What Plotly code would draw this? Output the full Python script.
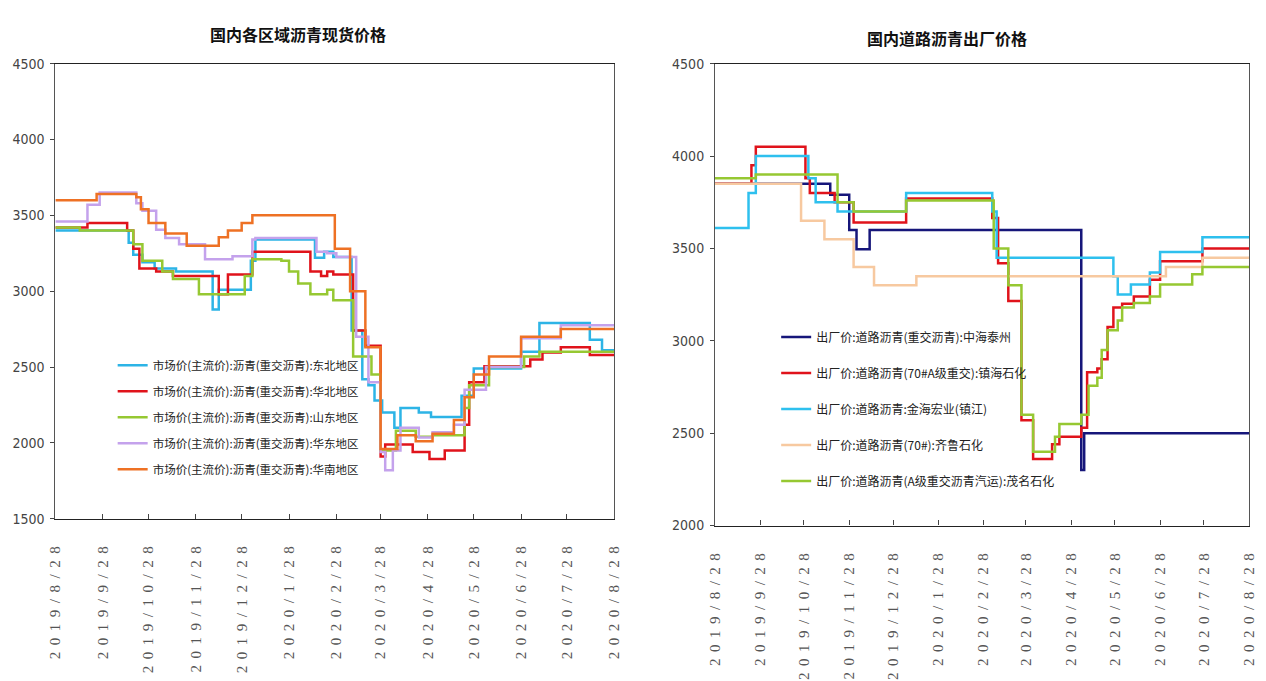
import plotly.graph_objects as go

# ---------------- data: regional spot prices (left panel) ----------------
dongbei_dates = ["2019-08-28", "2019-10-15", "2019-10-18", "2019-10-24", "2019-11-01", "2019-11-15",
                 "2019-12-09", "2019-12-13", "2020-01-03", "2020-01-06", "2020-02-14", "2020-02-20",
                 "2020-02-26", "2020-03-09", "2020-03-16", "2020-03-20", "2020-03-24", "2020-03-29",
                 "2020-04-06", "2020-04-10", "2020-04-22", "2020-04-30", "2020-05-20", "2020-05-28",
                 "2020-06-28", "2020-07-10", "2020-08-12", "2020-08-20", "2020-08-28"]
dongbei_vals = [3400, 3320, 3240, 3190, 3150, 3130, 2880, 3010, 3200, 3340, 3220, 3260,
                3225, 2740, 2420, 2380, 2280, 2200, 2100, 2230, 2200, 2170, 2310, 2490,
                2600, 2790, 2680, 2610, 2610]

huabei_dates = ["2019-08-28", "2019-09-18", "2019-10-14", "2019-10-18", "2019-10-22", "2019-11-02",
                "2019-11-13", "2019-12-13", "2019-12-19", "2020-01-04", "2020-02-11", "2020-02-18",
                "2020-02-22", "2020-02-26", "2020-03-10", "2020-03-18", "2020-03-28", "2020-03-31",
                "2020-04-18", "2020-04-29", "2020-05-09", "2020-05-22", "2020-05-25", "2020-06-04",
                "2020-07-04", "2020-07-12", "2020-07-24", "2020-08-12", "2020-08-28"]
huabei_vals = [3420, 3450, 3400, 3280, 3150, 3130, 3100, 2980, 3110, 3260, 3130, 3100,
               3130, 3110, 2740, 2640, 1910, 1990, 1940, 1893, 1950, 2120, 2400, 2505,
               2550, 2595, 2630, 2580, 2580]

shandong_dates = ["2019-08-28", "2019-09-13", "2019-10-18", "2019-10-24", "2019-11-06", "2019-11-13",
                  "2019-11-30", "2019-12-30", "2020-01-04", "2020-01-23", "2020-01-28", "2020-02-03",
                  "2020-02-11", "2020-02-22", "2020-02-26", "2020-03-10", "2020-03-22", "2020-03-28",
                  "2020-04-07", "2020-04-20", "2020-05-01", "2020-05-22", "2020-05-25", "2020-06-07",
                  "2020-06-30", "2020-07-10", "2020-08-28"]
shandong_vals = [3420, 3400, 3310, 3200, 3130, 3080, 2980, 3100, 3210, 3200, 3130, 3050,
                 2980, 3010, 2940, 2570, 2450, 1950, 2080, 2040, 2050, 2230, 2380, 2500,
                 2570, 2600, 2600]

huadong_dates = ["2019-08-28", "2019-09-18", "2019-09-26", "2019-10-20", "2019-10-24", "2019-11-02",
                 "2019-11-08", "2019-11-17", "2019-12-04", "2019-12-22", "2020-01-04", "2020-01-06",
                 "2020-02-15", "2020-02-22", "2020-02-28", "2020-03-12", "2020-03-20", "2020-03-28",
                 "2020-03-31", "2020-04-05", "2020-04-10", "2020-04-22", "2020-05-01", "2020-05-15",
                 "2020-05-22", "2020-06-05", "2020-06-28", "2020-07-24", "2020-08-28"]
huadong_vals = [3460, 3570, 3650, 3580, 3530, 3405, 3350, 3310, 3210, 3230, 3340, 3350,
                3260, 3250, 3225, 2700, 2400, 1940, 1820, 1950, 2100, 2035, 2070, 2120,
                2350, 2500, 2690, 2775, 2770]

huanan_dates = ["2019-08-28", "2019-09-24", "2019-10-20", "2019-10-23", "2019-10-28", "2019-11-08",
                "2019-11-22", "2019-12-13", "2019-12-19", "2019-12-28", "2020-01-04", "2020-02-27",
                "2020-03-08", "2020-03-18", "2020-03-28", "2020-04-08", "2020-04-20", "2020-05-01",
                "2020-05-15", "2020-05-22", "2020-05-28", "2020-06-07", "2020-06-28", "2020-07-24",
                "2020-08-28"]
huanan_vals = [3600, 3640, 3620, 3540, 3450, 3380, 3300, 3355, 3400, 3450, 3500, 3280,
               3000, 2630, 1960, 2050, 2010, 2060, 2150, 2300, 2450, 2570, 2700, 2750,
               2750]

# ---------------- data: refinery ex-works prices (right panel) ----------------
zhonghai_dates = ["2019-08-28", "2019-11-15", "2019-11-28", "2019-12-03", "2019-12-12",
                  "2020-05-05", "2020-05-07", "2020-08-28"]
zhonghai_vals = [3850, 3790, 3600, 3495, 3600, 2300, 2500, 2500]

zhenhai_dates = ["2019-08-28", "2019-09-22", "2019-09-25", "2019-10-29", "2019-11-01", "2019-11-18",
                 "2019-12-01", "2020-01-06", "2020-03-05", "2020-03-09", "2020-03-16", "2020-03-25",
                 "2020-04-02", "2020-04-15", "2020-04-20", "2020-05-05", "2020-05-09", "2020-05-16",
                 "2020-05-19", "2020-05-23", "2020-05-27", "2020-06-02", "2020-06-10", "2020-06-21",
                 "2020-06-28", "2020-07-27", "2020-08-28"]
zhenhai_vals = [3850, 3950, 4050, 3880, 3800, 3750, 3640, 3770, 3665, 3420, 3215, 2570,
                2360, 2440, 2480, 2530, 2830, 2850, 2900, 3075, 3180, 3200, 3240, 3330,
                3430, 3500, 3500]

jinhai_dates = ["2019-08-28", "2019-09-20", "2019-09-25", "2019-10-31", "2019-11-05", "2019-11-20",
                "2020-01-06", "2020-03-05", "2020-03-08", "2020-05-27", "2020-05-30", "2020-06-08",
                "2020-06-21", "2020-06-28", "2020-07-27", "2020-08-28"]
jinhai_vals = [3610, 3800, 4000, 3880, 3750, 3700, 3800, 3700, 3450, 3350, 3250, 3305,
               3370, 3480, 3560, 3560]

qilu_dates = ["2019-08-28", "2019-10-26", "2019-11-11", "2019-12-01", "2019-12-15", "2020-01-13",
              "2020-07-02", "2020-07-27", "2020-08-28"]
qilu_vals = [3850, 3650, 3550, 3400, 3300, 3350, 3400, 3450, 3450]

maoming_dates = ["2019-08-28", "2019-09-25", "2019-11-20", "2019-12-01", "2020-01-06", "2020-03-06",
                 "2020-03-16", "2020-03-25", "2020-04-02", "2020-04-17", "2020-04-20", "2020-05-05",
                 "2020-05-10", "2020-05-16", "2020-05-19", "2020-05-23", "2020-05-30", "2020-06-02",
                 "2020-06-10", "2020-06-21", "2020-06-28", "2020-07-20", "2020-07-27", "2020-08-28"]
maoming_vals = [3880, 3900, 3750, 3700, 3760, 3500, 3300, 2600, 2400, 2480, 2550, 2600,
                2756, 2800, 2950, 3057, 3110, 3180, 3205, 3240, 3305, 3360, 3400, 3400]

# ---------------- axis ticks ----------------
tick_dates = ["2019-08-28", "2019-09-28", "2019-10-28", "2019-11-28", "2019-12-28", "2020-01-28",
              "2020-02-28", "2020-03-28", "2020-04-28", "2020-05-28", "2020-06-28", "2020-07-28",
              "2020-08-28"]
tick_text = ["2019/8/28", "2019/9/28", "2019/10/28", "2019/11/28", "2019/12/28", "2020/1/28",
             "2020/2/28", "2020/3/28", "2020/4/28", "2020/5/28", "2020/6/28", "2020/7/28",
             "2020/8/28"]
left_yticks = [1500, 2000, 2500, 3000, 3500, 4000, 4500]
right_yticks = [2000, 2500, 3000, 3500, 4000, 4500]

left_title = "国内各区域沥青现货价格"
right_title = "国内道路沥青出厂价格"

left_series = [
    ("市场价(主流价):沥青(重交沥青):东北地区", dongbei_dates, dongbei_vals, "#2DB4E6"),
    ("市场价(主流价):沥青(重交沥青):华北地区", huabei_dates, huabei_vals, "#E0131B"),
    ("市场价(主流价):沥青(重交沥青):山东地区", shandong_dates, shandong_vals, "#96C832"),
    ("市场价(主流价):沥青(重交沥青):华东地区", huadong_dates, huadong_vals, "#C4A2EC"),
    ("市场价(主流价):沥青(重交沥青):华南地区", huanan_dates, huanan_vals, "#EE7124"),
]
right_series = [
    ("出厂价:道路沥青(重交沥青):中海泰州", zhonghai_dates, zhonghai_vals, "#16167A"),
    ("出厂价:道路沥青(70#A级重交):镇海石化", zhenhai_dates, zhenhai_vals, "#E0131B"),
    ("出厂价:道路沥青:金海宏业(镇江)", jinhai_dates, jinhai_vals, "#2EC0EE"),
    ("出厂价:道路沥青(70#):齐鲁石化", qilu_dates, qilu_vals, "#F7C9A0"),
    ("出厂价:道路沥青(A级重交沥青汽运):茂名石化", maoming_dates, maoming_vals, "#96C832"),
]

W, H = 1266, 681
CJK = "Noto Sans CJK SC"


def fx(p):
    return p / W


def fy(p):
    return 1 - p / H


fig = go.Figure()
for i, (name, d, v, c) in enumerate(left_series):
    fig.add_trace(go.Scatter(x=d, y=v, name=name, mode="lines", line_shape="hv",
                             line=dict(color=c, width=2.5), xaxis="x", yaxis="y",
                             legend="legend", legendgroup="L%d" % i))
for i, (name, d, v, c) in enumerate(right_series):
    fig.add_trace(go.Scatter(x=d, y=v, name=name, mode="lines", line_shape="hv",
                             line=dict(color=c, width=2.5), xaxis="x2", yaxis="y2",
                             legend="legend2", legendgroup="R%d" % i))

xcommon = dict(type="date", range=["2019-08-28", "2020-08-28"], tickmode="array",
               tickvals=tick_dates, ticktext=tick_text, tickangle=-90,
               ticks="inside", ticklen=5, tickcolor="#444", ticklabelstandoff=14,
               showline=True, linecolor="#222", linewidth=1.2, mirror=True,
               showgrid=False, zeroline=False,
               tickfont=dict(family="Liberation Serif, serif", size=15, color="#555"))
ycommon = dict(tickmode="array", ticks="outside", ticklen=4, tickcolor="#444",
               showline=True, linecolor="#555", linewidth=1, mirror=True,
               showgrid=False, zeroline=False, ticklabelstandoff=3,
               tickfont=dict(family="Liberation Sans Narrow, DejaVu Sans Condensed, sans-serif",
                             size=14, color="#444"))

fig.update_layout(
    width=W, height=H,
    margin=dict(l=0, r=0, t=0, b=0),
    paper_bgcolor="white", plot_bgcolor="white",
    xaxis=dict(xcommon, domain=[fx(48), fx(614)], anchor="y"),
    yaxis=dict(ycommon, domain=[fy(523), fy(57)], range=[1500, 4500],
               tickvals=left_yticks, anchor="x"),
    xaxis2=dict(xcommon, domain=[fx(716), fx(1257)], anchor="y2"),
    yaxis2=dict(ycommon, domain=[fy(530), fy(57)], range=[2000, 4500],
                tickvals=right_yticks, anchor="x2"),
    legend=dict(x=fx(106), y=fy(351), xanchor="left", yanchor="top",
                bgcolor="rgba(0,0,0,0)", traceorder="grouped", tracegroupgap=7,
                itemwidth=30, font=dict(family=CJK, size=11.5, color="#222")),
    legend2=dict(x=fx(778), y=fy(322), xanchor="left", yanchor="top",
                 bgcolor="rgba(0,0,0,0)", traceorder="grouped", tracegroupgap=17,
                 itemwidth=30, font=dict(family=CJK, size=12, color="#222")),
    annotations=[
        dict(text=left_title, x=fx(294), y=fy(27), xref="paper", yref="paper",
             xanchor="center", yanchor="middle", showarrow=False,
             font=dict(family=CJK, size=16, color="#111", weight="bold")),
        dict(text=right_title, x=fx(951), y=fy(31), xref="paper", yref="paper",
             xanchor="center", yanchor="middle", showarrow=False,
             font=dict(family=CJK, size=16, color="#111", weight="bold")),
    ],
)

# widen the character spacing of the rotated date labels
spacing_js = """
var gd = document.getElementById('{plot_id}');
function spaceDates() {
  gd.querySelectorAll('.xtick text, .x2tick text').forEach(function (t) {
    t.style.letterSpacing = '6.5px';
  });
}
spaceDates();
gd.on('plotly_afterplot', spaceDates);
"""

fig.write_html("out.html", post_script=spacing_js)
